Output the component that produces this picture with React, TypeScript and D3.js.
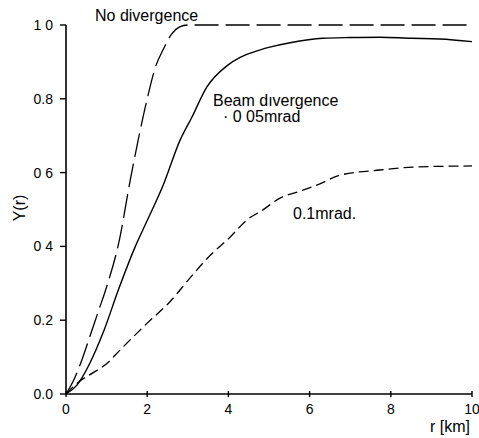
import React from "react";
import * as d3 from "d3";

const W = 479;
const H = 438;

const xTicks = [0, 2, 4, 6, 8, 10];
const xTickLabels = ["0", "2", "4", "6", "8", "10"];
const yTicks = [0, 0.2, 0.4, 0.6, 0.8, 1.0];
const yTickLabels = ["0.0", "0.2", "0 4", "0 6", "0.8", "1 0"];

// No divergence
const rNoDiv = [0, 0.2, 0.4, 0.6, 0.8, 1.0, 1.3, 1.6, 1.8, 2.0, 2.2, 2.4, 2.6, 2.8, 3.0, 4, 6, 8, 10];
const yNoDiv = [0, 0.04, 0.095, 0.16, 0.225, 0.29, 0.41, 0.59, 0.7, 0.8, 0.885, 0.935, 0.975, 0.995, 1.0, 1.0, 1.0, 1.0, 1.0];

// Beam divergence 0.05 mrad
const r005 = [0, 0.27, 0.59, 0.91, 1.3, 1.7, 2.0, 2.39, 2.81, 3.1, 3.47, 3.97, 4.29, 4.6, 5.02, 5.52, 6.33, 7.0, 7.73, 8.5, 9.21, 10];
const y005 = [0, 0.024, 0.084, 0.165, 0.285, 0.398, 0.47, 0.565, 0.688, 0.75, 0.832, 0.89, 0.912, 0.926, 0.94, 0.952, 0.964, 0.966, 0.967, 0.964, 0.962, 0.955];

// 0.1 mrad
const r01 = [0, 0.18, 0.34, 0.67, 1.0, 1.33, 2.0, 2.56, 3.05, 3.5, 4.04, 4.46, 4.85, 5.27, 5.69, 6.18, 6.75, 7.73, 8.55, 10];
const y01 = [0, 0.02, 0.035, 0.058, 0.082, 0.119, 0.192, 0.25, 0.314, 0.37, 0.425, 0.472, 0.499, 0.531, 0.547, 0.566, 0.593, 0.607, 0.615, 0.618];

const FONT = "'Liberation Sans', Arial, Helvetica, sans-serif";

export default function App() {
  const x = d3.scaleLinear().domain([0, 10]).range([66, 472]);
  const y = d3.scaleLinear().domain([0, 1]).range([394, 25]);

  const line = d3
    .line<[number, number]>()
    .x((d) => x(d[0]))
    .y((d) => y(d[1]))
    .curve(d3.curveMonotoneX);

  const zip = (a: number[], b: number[]) => a.map((v, i) => [v, b[i]] as [number, number]);

  return (
    <svg
      width={W}
      height={H}
      style={{ position: "absolute", left: 0, top: 0, background: "#fff" }}
      fontFamily={FONT}
    >
      <rect x={0} y={0} width={W} height={H} fill="#fff" />
      {/* axes */}
      <line x1={x(0)} x2={x(0)} y1={y(1)} y2={y(0)} stroke="#000" strokeWidth={1.6} />
      <line x1={x(0)} x2={x(10)} y1={y(0)} y2={y(0)} stroke="#000" strokeWidth={1.6} />
      {yTicks.map((t, i) => (
        <g key={"y" + i}>
          <line x1={x(0) - 6} x2={x(0)} y1={y(t)} y2={y(t)} stroke="#000" strokeWidth={1.4} />
          <text x={x(0) - 13} y={y(t) + 5} textAnchor="end" fontSize={14}>
            {yTickLabels[i]}
          </text>
        </g>
      ))}
      {xTicks.map((t, i) => (
        <g key={"x" + i}>
          <line x1={x(t)} x2={x(t)} y1={y(0) - 3} y2={y(0) + 3} stroke="#000" strokeWidth={1.4} />
          <text x={x(t)} y={y(0) + 20} textAnchor="middle" fontSize={14}>
            {xTickLabels[i]}
          </text>
        </g>
      ))}
      <text x={470} y={432} textAnchor="end" fontSize={16}>
        r [km]
      </text>
      <text
        transform={`translate(25,208) rotate(-90)`}
        textAnchor="middle"
        fontSize={16}
      >
        Y(r)
      </text>

      {/* curves */}
      <path
        d={line(zip(rNoDiv, yNoDiv)) || ""}
        fill="none"
        stroke="#000"
        strokeWidth={1.3}
        strokeDasharray="24 7"
      />
      <path d={line(zip(r005, y005)) || ""} fill="none" stroke="#000" strokeWidth={1.4} />
      <path
        d={line(zip(r01, y01)) || ""}
        fill="none"
        stroke="#000"
        strokeWidth={1.3}
        strokeDasharray="10 5"
      />

      {/* annotations */}
      <text x={95} y={21} fontSize={16}>
        No divergence
      </text>
      <text x={213} y={106} fontSize={16}>
        Beam dıvergence
      </text>
      <text x={223} y={122} fontSize={16}>
        · 0 05mrad
      </text>
      <text x={293} y={219} fontSize={16}>
        0.1mrad.
      </text>
    </svg>
  );
}
